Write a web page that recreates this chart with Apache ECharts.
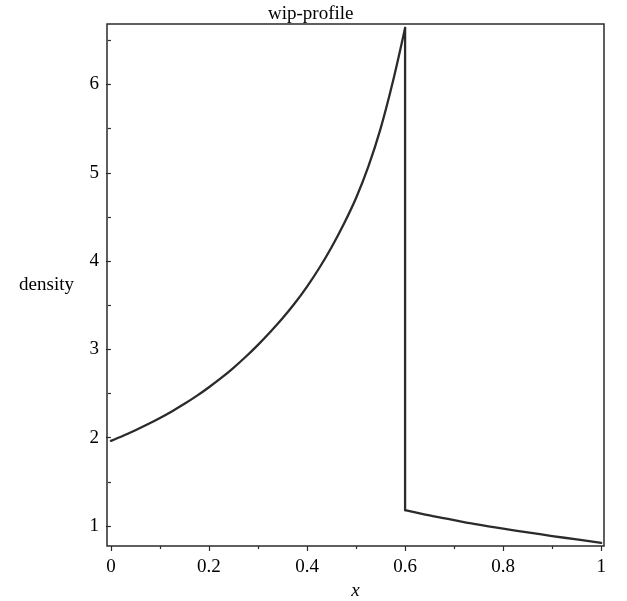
<!DOCTYPE html>
<html>
<head>
<meta charset="utf-8">
<script src="https://cdn.jsdelivr.net/npm/echarts@6/dist/echarts.min.js"></script>
<style>html,body{margin:0;padding:0;background:#fff}#c{width:627px;height:601px}</style>
</head>
<body>
<div id="c"></div>
<script>
// Data
const leftX = [0, 0.025, 0.05, 0.075, 0.1, 0.125, 0.15, 0.175, 0.2, 0.225, 0.25, 0.275, 0.3,
               0.325, 0.35, 0.375, 0.4, 0.425, 0.45, 0.475, 0.5, 0.525, 0.55, 0.575, 0.6];
const leftDensity = [1.965, 2.023, 2.085, 2.152, 2.224, 2.301, 2.384, 2.474, 2.572, 2.677, 2.792, 2.917, 3.052,
                     3.197, 3.352, 3.522, 3.712, 3.922, 4.157, 4.42, 4.715, 5.07, 5.50, 6.03, 6.64];
const jumpX = [0.6, 0.6];
const jumpDensity = [6.64, 1.18];
const rightX = [0.6, 0.65, 0.7, 0.75, 0.8, 0.85, 0.9, 0.95, 1.0];
const rightDensity = [1.18, 1.12, 1.067, 1.015, 0.97, 0.928, 0.887, 0.848, 0.81];
const xMajorTicks = [0, 0.2, 0.4, 0.6, 0.8, 1];
const xMinorTicks = [0.1, 0.3, 0.5, 0.7, 0.9];
const yMajorTicks = [1, 2, 3, 4, 5, 6];
const yMinorTicks = [1.5, 2.5, 3.5, 4.5, 5.5, 6.5];
const titleText = 'wip-profile';
const xName = 'x';
const yName = 'density';

const xMin = -0.008, xMax = 1.0057;
const yMin = 0.774, yMax = 6.685;
const font = 'Liberation Serif';
const dark = '#2b2b2b';

const pairs = (xs, ys) => xs.map((x, i) => [x, ys[i]]);
const lineSeries = (data, smooth) => ({
  type: 'line', xAxisIndex: 0, yAxisIndex: 0,
  data, showSymbol: false, smooth,
  lineStyle: {color: dark, width: 2.3, cap: 'round', join: 'round'}
});

const chart = echarts.init(document.getElementById('c'), null, {renderer: 'canvas'});
chart.setOption({
  animation: false,
  backgroundColor: '#fff',
  title: {
    text: titleText, left: 263, top: 0,
    textStyle: {fontFamily: font, fontSize: 19, fontWeight: 'normal', color: '#000'}
  },
  grid: {left: 107, top: 24, right: 23, bottom: 55, containLabel: false, outerBoundsMode: 'none',
    show: true, borderColor: dark, borderWidth: 1.5, backgroundColor: 'transparent'},
  xAxis: [{
    type: 'value', min: xMin, max: xMax,
    name: xName, nameLocation: 'middle', nameGap: 34,
    nameTextStyle: {fontFamily: font, fontSize: 19, fontStyle: 'italic', color: '#000'},
    axisLine: {show: false},
    splitLine: {show: false},
    axisTick: {show: true, length: 5, customValues: xMajorTicks, lineStyle: {color: dark, width: 1.2}},
    axisLabel: {show: true, margin: 12, customValues: xMajorTicks, fontFamily: font, fontSize: 19, color: '#000',
      formatter: v => String(Math.round(v * 10) / 10)}
  }, {
    type: 'value', min: xMin, max: xMax, position: 'bottom',
    axisLine: {show: false}, splitLine: {show: false}, axisLabel: {show: false},
    axisTick: {show: true, length: 3, customValues: xMinorTicks, lineStyle: {color: dark, width: 1.2}}
  }],
  yAxis: [{
    type: 'value', min: yMin, max: yMax,
    name: yName, nameLocation: 'middle', nameRotate: 0, nameGap: 33,
    nameTextStyle: {fontFamily: font, fontSize: 19, color: '#000', align: 'right', padding: [20, 0, 0, 0]},
    axisLine: {show: false},
    splitLine: {show: false},
    axisTick: {show: true, length: 5, customValues: yMajorTicks, lineStyle: {color: dark, width: 1.2}},
    axisLabel: {show: true, margin: 8, customValues: yMajorTicks, fontFamily: font, fontSize: 19, color: '#000'}
  }, {
    type: 'value', min: yMin, max: yMax, position: 'left',
    axisLine: {show: false}, splitLine: {show: false}, axisLabel: {show: false},
    axisTick: {show: true, length: 3, customValues: yMinorTicks, lineStyle: {color: dark, width: 1.2}}
  }],
  series: [
    lineSeries(pairs(leftX, leftDensity), 0.3),
    lineSeries(pairs(jumpX, jumpDensity), false),
    lineSeries(pairs(rightX, rightDensity), 0.3)
  ]
});
</script>
</body>
</html>
